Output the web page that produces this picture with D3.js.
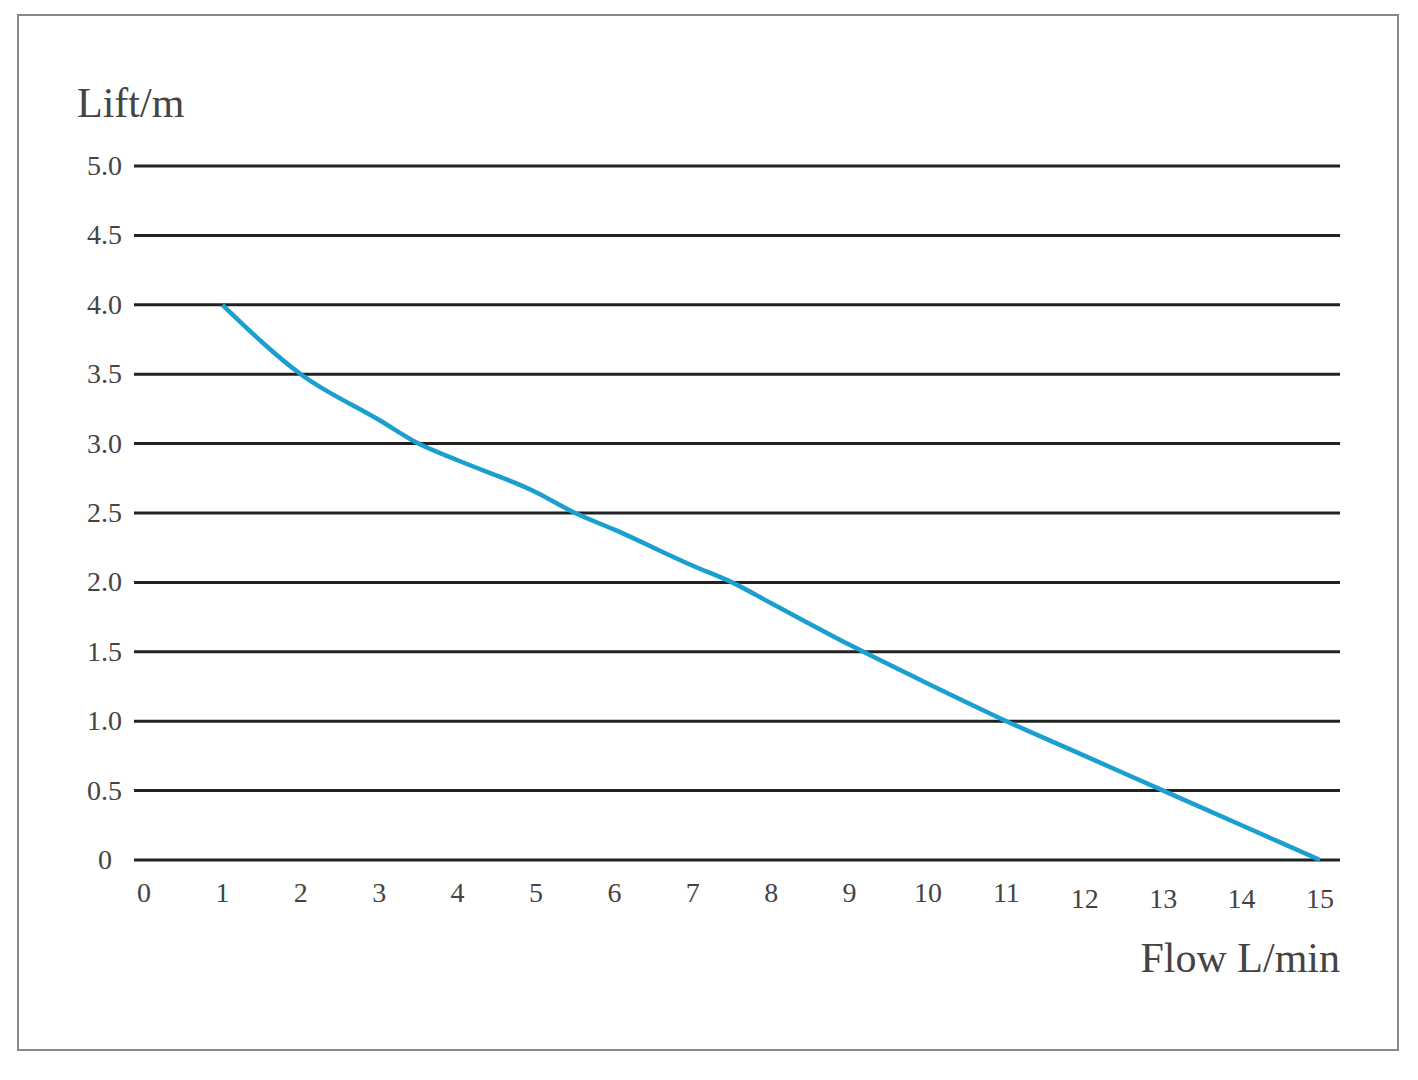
<!DOCTYPE html>
<html><head><meta charset="utf-8">
<script src="https://cdn.jsdelivr.net/npm/d3@7"></script>
<style>body{margin:0;background:#fff}</style></head>
<body><svg id="c" width="1418" height="1080"></svg>
<script>
// lift curve data
const flow = [1, 2, 3, 3.5, 4, 5, 5.5, 6, 7, 7.5, 8, 9, 10, 11, 12, 13, 14, 15];
const lift = [4.0, 3.5, 3.17, 3.0, 2.88, 2.65, 2.5, 2.38, 2.12, 2.0, 1.85, 1.55, 1.27, 1.0, 0.75, 0.5, 0.25, 0];
const yTicks = [0, 0.5, 1, 1.5, 2, 2.5, 3, 3.5, 4, 4.5, 5];
const xTicks = d3.range(0, 16);

const svg = d3.select("#c");
svg.append("rect").attr("x", 18).attr("y", 15).attr("width", 1380).attr("height", 1035)
  .attr("fill", "none").attr("stroke", "#888").attr("stroke-width", 2);

const x = d3.scaleLinear().domain([0, 15]).range([144, 1320]);
const y = d3.scaleLinear().domain([0, 5]).range([860, 166]);

// horizontal grid
svg.selectAll(".grid").data(yTicks).join("line")
  .attr("x1", 134).attr("x2", 1340)
  .attr("y1", d => y(d)).attr("y2", d => y(d))
  .attr("stroke", "#222").attr("stroke-width", 3);

const font = "'Liberation Serif', 'DejaVu Serif', serif";
svg.selectAll(".yl").data(yTicks).join("text")
  .attr("x", d => d === 0 ? 112 : 122).attr("y", d => y(d) + 9)
  .attr("text-anchor", "end").attr("font-family", font).attr("font-size", 28).attr("fill", "#444")
  .text(d => d === 0 ? "0" : d.toFixed(1));

svg.selectAll(".xl").data(xTicks).join("text")
  .attr("x", d => x(d)).attr("y", d => d >= 12 ? 908 : 902)
  .attr("text-anchor", "middle").attr("font-family", font).attr("font-size", 28).attr("fill", "#444")
  .text(d => d);

svg.append("text").attr("x", 77).attr("y", 117).attr("font-family", font).attr("font-size", 42)
  .attr("fill", "#444").text("Lift/m");
svg.append("text").attr("x", 1340).attr("y", 972).attr("text-anchor", "end").attr("font-family", font)
  .attr("font-size", 42).attr("fill", "#444").text("Flow L/min");

const line = d3.line().x(d => x(d[0])).y(d => y(d[1])).curve(d3.curveMonotoneX);
svg.append("path").datum(d3.zip(flow, lift)).attr("d", line)
  .attr("fill", "none").attr("stroke", "#1a9fd0").attr("stroke-width", 4.5);
</script></body></html>
